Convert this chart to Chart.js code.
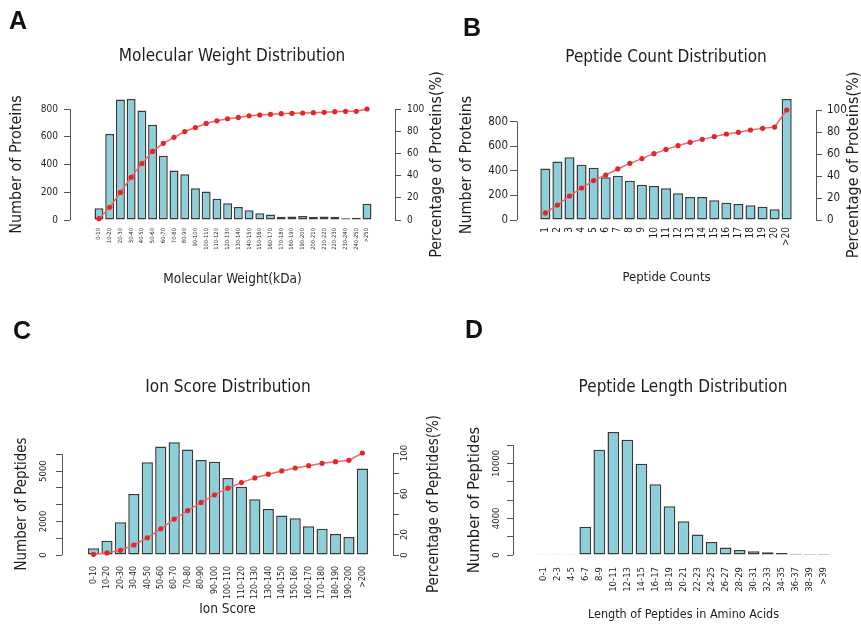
<!DOCTYPE html>
<html>
<head>
<meta charset="utf-8">
<script src="https://cdn.jsdelivr.net/npm/chart.js@4.4.1/dist/chart.umd.min.js"></script>
<style>
  html, body { margin: 0; padding: 0; background: #fff; overflow: hidden; }
  body { width: 861px; height: 628px; position: relative; }
  canvas { position: absolute; }
  .tag { position: absolute; font: bold 25px "Liberation Sans", Arial, sans-serif; line-height: 25px; color: #111; }
</style>
</head>
<body>
<canvas id="mw" width="464" height="300" style="left:0;top:0"></canvas>
<canvas id="pc" width="472" height="300" style="left:430px;top:0"></canvas>
<canvas id="is" width="456" height="328" style="left:0;top:300px"></canvas>
<canvas id="pl" width="506" height="328" style="left:430px;top:300px"></canvas>
<div class="tag" style="left:9px;top:8px">A</div>
<div class="tag" style="left:463px;top:15px">B</div>
<div class="tag" style="left:13px;top:318px">C</div>
<div class="tag" style="left:465px;top:317px">D</div>
<script>
// A: molecular weight
const mwLabels = ['0-10', '10-20', '20-30', '30-40', '40-50', '50-60', '60-70', '70-80', '80-90', '90-100',
    '100-110', '110-120', '120-130', '130-140', '140-150', '150-160', '160-170', '170-180', '180-190',
    '190-200', '200-210', '210-220', '220-230', '230-240', '240-250', '>250'];
const mwCounts = [85, 620, 868, 872, 790, 687, 463, 357, 330, 229, 205, 154, 120, 94, 70, 48, 39, 24, 26, 29,
    22, 26, 24, 12, 17, 118];
const mwPercent = [1.2, 11.5, 24.8, 38.5, 50.9, 61.8, 69.1, 74.5, 79.7, 83.3, 87.0, 89.4, 91.2, 92.4, 93.9,
    94.5, 95.2, 95.8, 96.1, 96.4, 96.7, 97.0, 97.6, 97.9, 97.9, 100];

// B: peptide count
const pcLabels = ['1', '2', '3', '4', '5', '6', '7', '8', '9', '10', '11', '12', '13', '14', '15', '16', '17',
    '18', '19', '20', '>20'];
const pcCounts = [420, 475, 510, 450, 426, 347, 361, 320, 287, 277, 258, 217, 187, 187, 160, 141, 130, 119, 108,
    87, 984];
const pcPercent = [6.4, 13.6, 21.8, 29.1, 35.8, 40.9, 46.4, 51.5, 55.8, 60.3, 64.2, 67.6, 70.6, 73.3, 75.8, 78.2,
    79.7, 81.8, 83.3, 84.5, 100];

// C: ion score
const isLabels = ['0-10', '10-20', '20-30', '30-40', '40-50', '50-60', '60-70', '70-80', '80-90', '90-100',
    '100-110', '110-120', '120-130', '130-140', '140-150', '150-160', '160-170', '170-180', '180-190',
    '190-200', '>200'];
const isCounts = [400, 850, 1950, 3640, 5520, 6460, 6720, 6280, 5660, 5560, 4590, 4070, 3320, 2740, 2350, 2190,
    1710, 1570, 1250, 1070, 5150];
const isPercent = [0.7, 2.0, 4.6, 9.8, 16.9, 25.7, 35.2, 43.6, 51.5, 59.0, 65.5, 71.0, 75.6, 79.2, 82.4, 85.3,
    87.6, 89.9, 91.5, 92.8, 100];

// D: peptide length
const plLabels = ['0-1', '2-3', '4-5', '6-7', '8-9', '10-11', '12-13', '14-15', '16-17', '18-19', '20-21',
    '22-23', '24-25', '26-27', '28-29', '30-31', '32-33', '34-35', '36-37', '38-39', '>39'];
const plCounts = [20, 20, 20, 3080, 11480, 13430, 12560, 9960, 7710, 5320, 3690, 2240, 1410, 830, 540, 400, 290,
    220, 150, 110, 110];

const proteinTicks = [0, 200, 400, 600, 800];
const percentTicks = [0, 20, 40, 60, 80, 100];
const ionTicks = [0, 1000, 2000, 3000, 4000, 5000, 6000];
const lengthTicks = [0, 2000, 4000, 6000, 8000, 10000, 12000];

const FONT = '"DejaVu Sans Condensed", "DejaVu Sans", sans-serif';
const INK = '#1e1e1e';
const AXIS = '#555555';
const BAR_FILL = '#8ccfdb';
const BAR_EDGE = '#3a3a3a';
const LINE_RED = '#ee6666';
const DOT_RED = '#e3262b';

// R-style axis line: only spans the first to last tick
const rAxis = {
    id: 'rAxis',
    beforeDatasetsDraw(chart, args, opts) {
        const ctx = chart.ctx;
        ctx.save();
        ctx.strokeStyle = AXIS;
        ctx.lineWidth = 1;
        (opts.ids || []).forEach((id) => {
            const s = chart.scales[id];
            const x = Math.round(s.position === 'left' ? s.right : s.left) + 0.5;
            const top = s.getPixelForValue(s.ticks[s.ticks.length - 1].value);
            const bottom = s.getPixelForValue(s.ticks[0].value);
            ctx.beginPath();
            ctx.moveTo(x, top);
            ctx.lineTo(x, bottom);
            ctx.stroke();
        });
        if (opts.rightTitle) {
            const a = chart.chartArea;
            ctx.translate(opts.rightTitle.x, (a.top + a.bottom) / 2);
            ctx.rotate(-Math.PI / 2);
            ctx.fillStyle = INK;
            ctx.font = opts.rightTitle.size + 'px ' + FONT;
            ctx.textAlign = 'center';
            ctx.textBaseline = 'middle';
            ctx.fillText(opts.rightTitle.text, 0, 0);
        }
        ctx.restore();
    }
};

const fixWidth = (w) => (scale) => { scale.width = w; };
const fixHeight = (h) => (scale) => { scale.height = h; };
const setTicks = (values) => (scale) => { scale.ticks = values.map((v) => ({value: v})); };

function valueAxis(p) {
    return {
        position: p.position,
        min: 0,
        max: p.max,
        afterBuildTicks: setTicks(p.ticks),
        afterFit: fixWidth(p.width),
        border: {display: false},
        grid: {drawOnChartArea: false, drawTicks: true, tickLength: p.tickLength || 6, color: AXIS},
        ticks: {
            autoSkip: false,
            color: INK,
            padding: p.pad,
            font: {family: FONT, size: p.size},
            minRotation: p.rotate ? 90 : 0,
            maxRotation: p.rotate ? 90 : 0,
            crossAlign: p.rotate ? 'center' : 'near',
            callback: (v) => (!p.show || p.show.includes(v)) ? String(v) : ''
        },
        title: p.title ? {
            display: true, text: p.title, color: INK,
            font: {family: FONT, size: p.titleSize},
            padding: {top: p.titlePad, bottom: 0}
        } : {display: false}
    };
}

function panel(id, p) {
    const datasets = [];
    if (p.percent) {
        datasets.push({
            type: 'line',
            data: p.percent.map((v, i) => ({x: i, y: v})),
            yAxisID: 'y1',
            borderColor: LINE_RED,
            borderWidth: 1.5,
            pointRadius: 2.6,
            pointBackgroundColor: DOT_RED,
            pointBorderColor: DOT_RED,
            pointBorderWidth: 0,
            tension: 0,
            clip: false,
            order: 0
        });
    }
    datasets.push({
        type: 'bar',
        data: p.counts.map((v, i) => ({x: i, y: v})),
        yAxisID: 'y',
        backgroundColor: BAR_FILL,
        borderColor: BAR_EDGE,
        borderWidth: 1.5,
        borderSkipped: false,
        categoryPercentage: 1 / 1.2,
        barPercentage: 1,
        clip: false,
        order: 1
    });

    const scales = {
        x: {
            type: 'linear',
            min: p.xMin,
            max: p.xMax,
            afterBuildTicks: setTicks(p.labels.map((_, i) => i)),
            afterFit: fixHeight(p.xHeight),
            border: {display: false},
            grid: {display: false, drawTicks: false},
            ticks: {
                autoSkip: false, minRotation: 90, maxRotation: 90, color: INK,
                padding: p.xTickPad, font: {family: FONT, size: p.xTickSize},
                callback: (v) => p.labels[v]
            },
            title: {
                display: true, text: p.xTitle, color: INK,
                font: {family: FONT, size: p.xTitleSize},
                padding: {top: 0, bottom: p.xTitlePad}
            }
        },
        y: valueAxis(p.left)
    };
    if (p.right) {
        scales.y1 = valueAxis(p.right);
    } else {
        scales.y1 = {
            position: 'right', afterFit: fixWidth(p.spacer),
            ticks: {display: false}, grid: {display: false}, border: {display: false}
        };
    }

    return new Chart(document.getElementById(id), {
        type: 'bar',
        data: {datasets: datasets},
        options: {
            responsive: false,
            animation: false,
            events: [],
            layout: {padding: 0},
            scales: scales,
            plugins: {
                legend: {display: false},
                tooltip: {enabled: false},
                title: {
                    display: true, text: p.title, color: INK,
                    font: {family: FONT, size: 17, weight: 'normal'},
                    padding: {top: p.titleTop, bottom: p.titleBottom}
                },
                rAxis: {ids: p.right ? ['y', 'y1'] : ['y'], rightTitle: p.rightTitle}
            }
        },
        plugins: [rAxis]
    });
}

panel('mw', {
    title: 'Molecular Weight Distribution', titleTop: 46.8, titleBottom: 41.8,
    labels: mwLabels, counts: mwCounts, percent: mwPercent,
    xMin: -2.12, xMax: 27.03, xHeight: 80, xTickSize: 5.8, xTickPad: 8,
    xTitle: 'Molecular Weight(kDa)', xTitleSize: 13.5, xTitlePad: 12.9,
    left: {position: 'left', max: 800, ticks: proteinTicks, width: 70, size: 10, pad: 6,
        title: 'Number of Proteins', titleSize: 16, titlePad: 7.4},
    right: {position: 'right', max: 100, ticks: percentTicks, width: 69, size: 10, pad: 6},
    rightTitle: {text: 'Percentage of Proteins(%)', x: 437, size: 16}
});

panel('pc', {
    title: 'Peptide Count Distribution', titleTop: 47.3, titleBottom: 42.3,
    labels: pcLabels, counts: pcCounts, percent: pcPercent,
    xMin: -1.76, xMax: 21.84, xHeight: 80, xTickSize: 10, xTickPad: 7,
    xTitle: 'Peptide Counts', xTitleSize: 13, xTitlePad: 14.2,
    left: {position: 'left', max: 895, ticks: proteinTicks, width: 87, size: 11.5, pad: 2, tickLength: 7,
        title: 'Number of Proteins', titleSize: 16, titlePad: 27.4},
    right: {position: 'right', max: 100, ticks: percentTicks, width: 86, size: 11.5, pad: 5},
    rightTitle: {text: 'Percentage of Proteins(%)', x: 424, size: 16}
});

panel('is', {
    title: 'Ion Score Distribution', titleTop: 77.8, titleBottom: 54.8,
    labels: isLabels, counts: isCounts, percent: isPercent,
    xMin: -1.76, xMax: 21.69, xHeight: 73, xTickSize: 8.8, xTickPad: 11,
    xTitle: 'Ion Score', xTitleSize: 13.5, xTitlePad: 10.9,
    left: {position: 'left', max: 6078, ticks: ionTicks, show: [0, 2000, 5000], width: 62, size: 9.5,
        pad: 1.8, rotate: true, title: 'Number of Peptides', titleSize: 15, titlePad: 13},
    right: {position: 'right', max: 100, ticks: percentTicks, show: [0, 20, 60, 100], width: 63, size: 9.5,
        pad: -2.2, rotate: true},
    rightTitle: {text: 'Percentage of Peptides(%)', x: 434, size: 15}
});

panel('pl', {
    title: 'Peptide Length Distribution', titleTop: 77.8, titleBottom: 46.8,
    labels: plLabels, counts: plCounts,
    xMin: -1.57, xMax: 21.57, xHeight: 73, xTickSize: 9.5, xTickPad: 12,
    xTitle: 'Length of Peptides in Amino Acids', xTitleSize: 12.5, xTitlePad: 5.5,
    left: {position: 'left', max: 12000, ticks: lengthTicks, show: [0, 4000, 10000], width: 83, size: 9.5,
        pad: -3.6, rotate: true, title: 'Number of Peptides', titleSize: 16.5, titlePad: 35.1},
    spacer: 82
});
</script>
</body>
</html>
